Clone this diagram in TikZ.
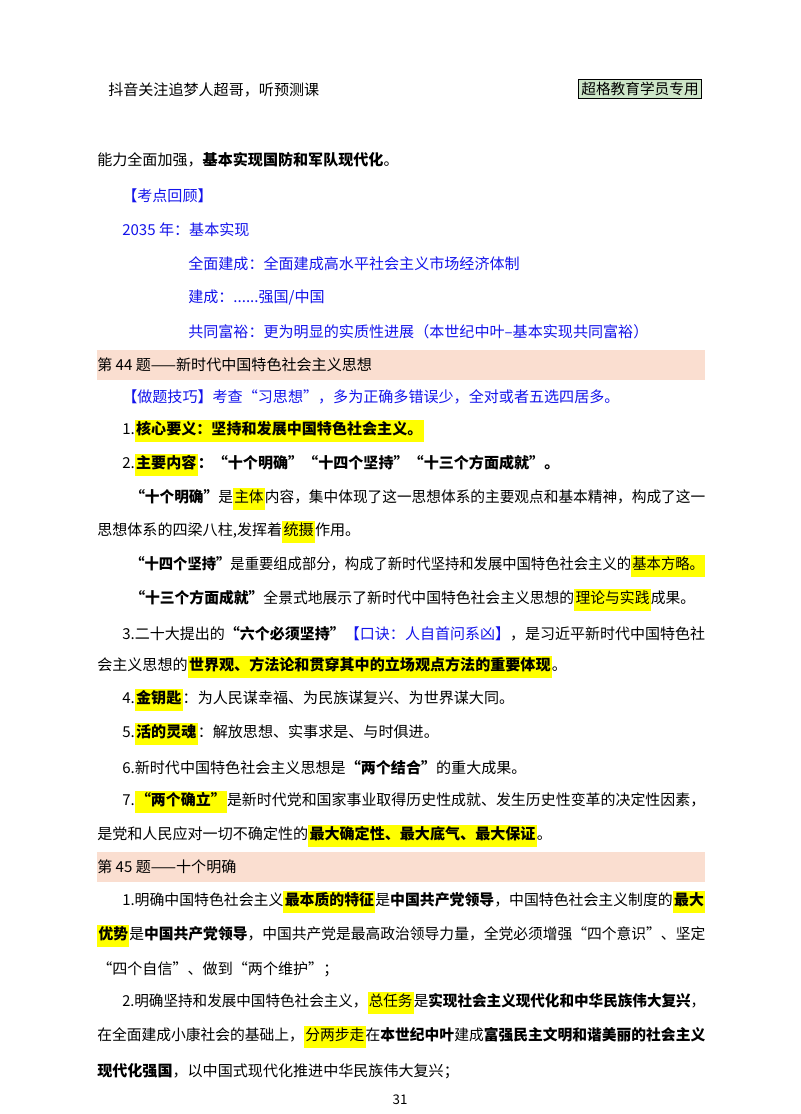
\documentclass[tikz,border=0pt]{standalone}
\usepackage{fontspec}
\usepackage{graphicx}
\setmainfont{Noto Sans CJK SC}
\definecolor{tblue}{RGB}{20,20,235}
\definecolor{band}{RGB}{250,222,208}
\definecolor{hly}{RGB}{255,255,0}
\definecolor{tag}{RGB}{205,230,200}
\newcommand{\hy}[1]{{\setlength{\fboxsep}{1pt}\colorbox{hly}{\strut #1}}}
\newcommand{\hb}[1]{\hy{\bfseries #1}}
\newcommand{\fitw}[2]{\resizebox{\dimexpr0.75pt*#1\relax}{\height}{#2}}
\tikzset{
 ln/.style={anchor=west,inner sep=0pt,font=\fontsize{11.3pt}{14pt}\selectfont},
 blu/.style={ln,text=tblue},
}
\begin{document}
\begin{tikzpicture}[x=0.75pt,y=-0.75pt]
\useasboundingbox (0,0) rectangle (800,1114);
\fill[white] (0,0) rectangle (800,1114);
\node[ln] (h1) at (108,90) {抖音关注追梦人超哥，听预测课};
\node[draw,fill=tag,inner sep=2pt,anchor=center,font=\fontsize{11pt}{13pt}\selectfont] (h2) at (640,89) {超格教育学员专用};
\node[ln] (a1) at (97,160) {能力全面加强，\textbf{基本实现国防和军队现代化}。};
\node[blu] (a2) at (122,196) {【考点回顾】};
\node[blu] (a3) at (122,230) {2035 年：基本实现};
\node[blu] (a4) at (188,264) {全面建成：全面建成高水平社会主义市场经济体制};
\node[blu] (a5) at (188,298) {建成：......强国/中国};
\node[blu] (a6) at (188,332) {共同富裕：更为明显的实质性进展（本世纪中叶–基本实现共同富裕）};
\fill[band] (97,350) rectangle (705,380);
\node[ln] (b0) at (97,365) {第 44 题——新时代中国特色社会主义思想};
\node[blu] (b1) at (122,397) {【做题技巧】考查“习思想”，多为正确多错误少，全对或者五选四居多。};
\node[ln] (b2) at (122,431) {1.\hb{核心要义：坚持和发展中国特色社会主义。}};
\node[ln] (b3) at (122,465) {2.\hb{主要内容}\textbf{：“十个明确”“十四个坚持”“十三个方面成就”。}};
\node[ln] (b4) at (130,499) {\fitw{575}{\textbf{“十个明确”}是\hy{主体}内容，集中体现了这一思想体系的主要观点和基本精神，构成了这一}};
\node[ln] (b5) at (97,532) {思想体系的四梁八柱,发挥着\hy{统摄}作用。};
\node[ln] (b6) at (130,566) {\fitw{575}{\textbf{“十四个坚持”}是重要组成部分，构成了新时代坚持和发展中国特色社会主义的\hy{基本方略。}}};
\node[ln] (b7) at (130,600) {\fitw{565}{\textbf{“十三个方面成就”}全景式地展示了新时代中国特色社会主义思想的\hy{理论与实践}成果。}};
\node[ln] (b8) at (122,634) {\fitw{583}{3.二十大提出的\textbf{“六个必须坚持”}\textcolor{tblue}{【口诀：人自首问系凶】}，是习近平新时代中国特色社}};
\node[ln] (b9) at (97,667) {会主义思想的\hb{世界观、方法论和贯穿其中的立场观点方法的重要体现}。};
\node[ln] (b10) at (122,700) {4.\hb{金钥匙}：为人民谋幸福、为民族谋复兴、为世界谋大同。};
\node[ln] (b11) at (122,734) {5.\hb{活的灵魂}：解放思想、实事求是、与时俱进。};
\node[ln] (b12) at (122,768) {6.新时代中国特色社会主义思想是\textbf{“两个结合”}的重大成果。};
\node[ln] (b13) at (122,802) {\fitw{583}{7.\hb{“两个确立”}是新时代党和国家事业取得历史性成就、发生历史性变革的决定性因素，}};
\node[ln] (b14) at (97,836) {是党和人民应对一切不确定性的\hb{最大确定性、最大底气、最大保证}。};
\fill[band] (97,852) rectangle (705,882);
\node[ln] (c0) at (97,867) {第 45 题——十个明确};
\node[ln] (c1) at (122,902) {\fitw{583}{1.明确中国特色社会主义\hb{最本质的特征}是\textbf{中国共产党领导}，中国特色社会主义制度的\hb{最大}}};
\node[ln] (c2) at (97,936) {\fitw{608}{\hb{优势}是\textbf{中国共产党领导}，中国共产党是最高政治领导力量，全党必须增强“四个意识”、坚定}};
\node[ln] (c3) at (97,969) {“四个自信”、做到“两个维护”；};
\node[ln] (c4) at (122,1003) {\fitw{583}{2.明确坚持和发展中国特色社会主义，\hy{总任务}是\textbf{实现社会主义现代化和中华民族伟大复兴}，}};
\node[ln] (c5) at (97,1037) {\fitw{608}{在全面建成小康社会的基础上，\hy{分两步走}在\textbf{本世纪中叶}建成\textbf{富强民主文明和谐美丽的社会主义}}};
\node[ln] (c6) at (97,1071) {\textbf{现代化强国}，以中国式现代化推进中华民族伟大复兴；};
\node[ln,anchor=center,font=\fontsize{10pt}{12pt}\selectfont] (pg) at (400,1100) {31};
\end{tikzpicture}
\end{document}
